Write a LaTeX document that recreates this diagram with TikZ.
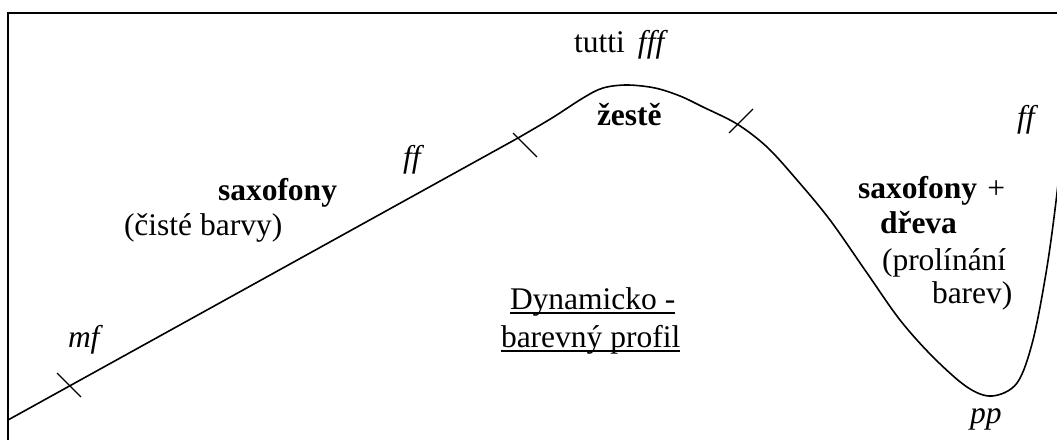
\documentclass[tikz,border=0pt]{standalone}
\usepackage{fontspec}
\setmainfont{Liberation Serif}[
  UprightFont=*,
  BoldFont=* Bold,
  ItalicFont=* Italic,
  BoldItalicFont=* Bold Italic,
  Ligatures=NoCommon]
\tikzset{
  txt/.style={inner sep=0pt, outer sep=0pt, anchor=base west, font=\fontsize{31.5}{37}\selectfont},
  dyn/.style={txt, font=\fontsize{31.5}{37}\selectfont\itshape},
  hdr/.style={txt, font=\fontsize{31.5}{37}\selectfont\bfseries},
  frameline/.style={line width=2pt},
  profile/.style={line width=1.6pt, line join=round},
  tick/.style={line width=1.2pt},
  uline/.style={line width=1.4pt}
}
\begin{document}
\begin{tikzpicture}[x=1pt, y=-1pt]
  \useasboundingbox (0,0) rectangle (1057,439);
  \begin{scope}
    \clip (0,0) rectangle (1057,439);
    % frame (open to the right and bottom)
    \draw[frameline] (1070,13) -- (8,13) -- (8,450);
    % dynamic profile
    \draw[profile] (8,420) -- (518,138)
      plot[smooth, tension=0.55] coordinates {
        (518,138) (552,118) (583,98) (603,88) (627,85) (655,88) (680,96)
        (703,107) (737,124) (767,147) (797,180) (830,220) (867,273)
        (900,320) (933,357) (967,387) (992,396) (1017,383) (1033,340)
        (1047,267) (1057,193) (1062,140)};
    % section marks
    \draw[tick] (57,373) -- (81,397);
    \draw[tick] (513,133) -- (537,157);
    \draw[tick] (729,133) -- (753,109);
  \end{scope}

  % labels
  \node[txt] (tutti) at (574,52) {tutti\hspace{0.42em}\textit{fff}};
  \node[hdr] (brass) at (597,125) {žestě};
  \node[dyn] (ffa) at (403,167) {ff};
  \node[hdr] (sax) at (218,200) {saxofony};
  \node[txt] (pure) at (124,235) {(čisté barvy)};
  \node[dyn] (mf) at (68,347) {mf};
  \node[txt] (title1) at (510,309) {Dynamicko -};
  \node[txt] (title2) at (501,347) {barevný profil};
  \draw[uline] ([yshift=-4pt]title1.base west) -- ([yshift=-4pt]title1.base east);
  \draw[uline] ([yshift=-4pt]title2.base west) -- ([yshift=-4pt]title2.base east);
  \node[txt] (saxw) at (858,198) {\textbf{saxofony}\hspace{0.33em}+};
  \node[hdr] (wood) at (880,233) {dřeva};
  \node[txt] (blend1) at (882,270) {(prolínání};
  \node[txt] (blend2) at (932,303) {barev)};
  \node[dyn] (ffb) at (1017,127) {ff};
  \node[dyn] (pp) at (970,423) {pp};
\end{tikzpicture}
\end{document}
